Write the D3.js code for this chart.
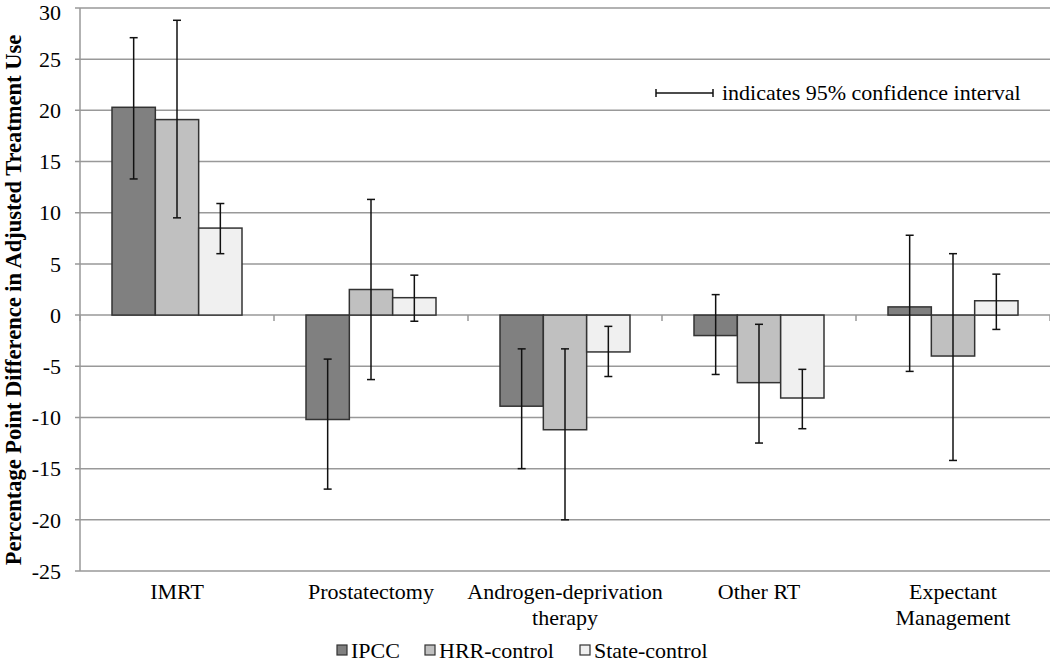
<!DOCTYPE html>
<html>
<head>
<meta charset="utf-8">
<script src="https://cdn.jsdelivr.net/npm/d3@7"></script>
<style>
  body { margin: 0; background: #fff; }
  text { font-family: "Liberation Serif", "Times New Roman", serif; }
</style>
</head>
<body>
<svg id="chart" width="1050" height="665"></svg>
<script>
// data
var categories = ["IMRT", "Prostatectomy", "Androgen-deprivation therapy", "Other RT", "Expectant Management"];
var catLines = [["IMRT"], ["Prostatectomy"], ["Androgen-deprivation", "therapy"], ["Other RT"], ["Expectant", "Management"]];
var seriesNames = ["IPCC", "HRR-control", "State-control"];
var ipcc  = [20.3, -10.2, -8.9, -2.0, 0.8];
var hrr   = [19.1, 2.5, -11.2, -6.6, -4.0];
var state = [8.5, 1.7, -3.6, -8.1, 1.4];
var ipccLow  = [13.3, -17.0, -15.0, -5.8, -5.5];
var ipccHigh = [27.1, -4.3, -3.3, 2.0, 7.8];
var hrrLow   = [9.5, -6.3, -20.0, -12.5, -14.2];
var hrrHigh  = [28.8, 11.3, -3.3, -0.9, 6.0];
var stateLow  = [6.0, -0.6, -6.0, -11.1, -1.4];
var stateHigh = [10.9, 3.9, -1.1, -5.3, 4.0];
var yTicks = [30, 25, 20, 15, 10, 5, 0, -5, -10, -15, -20, -25];
var colors = ["#808080", "#c0c0c0", "#f0f0f0"];

var svg = d3.select("svg#chart");
var plotLeft = 80, plotRight = 1050, plotTop = 8, plotBottom = 571;
var serif = "'Liberation Serif', 'Times New Roman', serif";

var y = d3.scaleLinear().domain([-25, 30]).range([plotBottom, plotTop]);
var x0 = d3.scaleBand().domain(categories).range([plotLeft, plotRight]).paddingInner(0).paddingOuter(0);
var x1 = d3.scaleBand().domain(seriesNames).range([32, 162]);

var rows = [];
categories.forEach(function(c, i) {
  rows.push({cat: c, s: "IPCC", v: ipcc[i], lo: ipccLow[i], hi: ipccHigh[i], col: colors[0]});
  rows.push({cat: c, s: "HRR-control", v: hrr[i], lo: hrrLow[i], hi: hrrHigh[i], col: colors[1]});
  rows.push({cat: c, s: "State-control", v: state[i], lo: stateLow[i], hi: stateHigh[i], col: colors[2]});
});

// gridlines
svg.append("g").selectAll("line")
  .data(yTicks).enter().append("line")
  .attr("x1", plotLeft - 5).attr("x2", plotRight)
  .attr("y1", function(d) { return y(d); })
  .attr("y2", function(d) { return y(d); })
  .attr("stroke", "#999").attr("stroke-width", 1.5);

// y tick labels (top one kept inside the frame)
svg.append("g").selectAll("text")
  .data(yTicks).enter().append("text")
  .attr("x", 61)
  .attr("y", function(d) { return Math.max(y(d), 12); })
  .attr("dy", "0.35em")
  .attr("text-anchor", "end")
  .attr("font-family", serif)
  .attr("font-size", 22)
  .attr("fill", "#000")
  .text(function(d) { return d; });

// y axis line
svg.append("line")
  .attr("x1", plotLeft).attr("x2", plotLeft)
  .attr("y1", plotTop).attr("y2", plotBottom)
  .attr("stroke", "#999").attr("stroke-width", 1.5);

// category ticks on zero line
svg.append("g").selectAll("line")
  .data(d3.range(categories.length + 1)).enter().append("line")
  .attr("x1", function(i) { return plotLeft + i * x0.bandwidth(); })
  .attr("x2", function(i) { return plotLeft + i * x0.bandwidth(); })
  .attr("y1", y(0)).attr("y2", y(0) + 6)
  .attr("stroke", "#999").attr("stroke-width", 1.5);

// bars
svg.append("g").selectAll("rect")
  .data(rows).enter().append("rect")
  .attr("x", function(d) { return x0(d.cat) + x1(d.s); })
  .attr("y", function(d) { return y(Math.max(0, d.v)); })
  .attr("width", x1.bandwidth())
  .attr("height", function(d) { return Math.abs(y(d.v) - y(0)); })
  .attr("fill", function(d) { return d.col; })
  .attr("stroke", "#333").attr("stroke-width", 1.5);

// error bars
var eb = svg.append("g").selectAll("g")
  .data(rows).enter().append("g")
  .attr("transform", function(d) { return "translate(" + (x0(d.cat) + x1(d.s) + x1.bandwidth() / 2) + ",0)"; });
eb.append("line")
  .attr("y1", function(d) { return y(d.lo); })
  .attr("y2", function(d) { return y(d.hi); })
  .attr("stroke", "#111").attr("stroke-width", 1.5);
eb.append("line")
  .attr("x1", -4).attr("x2", 4)
  .attr("y1", function(d) { return y(d.lo); })
  .attr("y2", function(d) { return y(d.lo); })
  .attr("stroke", "#111").attr("stroke-width", 1.5);
eb.append("line")
  .attr("x1", -4).attr("x2", 4)
  .attr("y1", function(d) { return y(d.hi); })
  .attr("y2", function(d) { return y(d.hi); })
  .attr("stroke", "#111").attr("stroke-width", 1.5);

// category labels
var cl = svg.append("g").selectAll("text")
  .data(categories).enter().append("text")
  .attr("x", function(d) { return x0(d) + x0.bandwidth() / 2; })
  .attr("y", 599)
  .attr("text-anchor", "middle")
  .attr("font-family", serif)
  .attr("font-size", 22)
  .attr("fill", "#000");
cl.selectAll("tspan")
  .data(function(d, i) { return catLines[i]; })
  .enter().append("tspan")
  .attr("x", function() { return this.parentNode.getAttribute("x"); })
  .attr("dy", function(d, i) { return i === 0 ? 0 : 26; })
  .text(function(d) { return d; });

// y title
svg.append("text")
  .attr("transform", "translate(21,300) rotate(-90)")
  .attr("text-anchor", "middle")
  .attr("font-family", serif)
  .attr("font-size", 22.5)
  .attr("font-weight", "bold")
  .attr("fill", "#000")
  .text("Percentage Point Difference in Adjusted Treatment Use");

// CI note
var note = svg.append("g").attr("transform", "translate(656,93)");
note.append("line").attr("x1", 0).attr("x2", 57).attr("stroke", "#111").attr("stroke-width", 1.5);
note.append("line").attr("x1", 0).attr("x2", 0).attr("y1", -4).attr("y2", 4).attr("stroke", "#111").attr("stroke-width", 1.5);
note.append("line").attr("x1", 57).attr("x2", 57).attr("y1", -4).attr("y2", 4).attr("stroke", "#111").attr("stroke-width", 1.5);
note.append("text").attr("x", 66).attr("dy", "0.32em")
  .attr("font-family", serif)
  .attr("font-size", 22).attr("fill", "#000")
  .text("indicates 95% confidence interval");

// legend
var legX = [337, 425, 580];
var leg = svg.append("g").selectAll("g")
  .data(seriesNames).enter().append("g")
  .attr("transform", function(d, i) { return "translate(" + legX[i] + ",650)"; });
leg.append("rect")
  .attr("x", 0).attr("y", -5).attr("width", 10).attr("height", 10)
  .attr("fill", function(d, i) { return colors[i]; })
  .attr("stroke", "#333").attr("stroke-width", 1.2);
leg.append("text")
  .attr("x", 14).attr("dy", "0.35em")
  .attr("font-family", serif)
  .attr("font-size", 22).attr("fill", "#000")
  .text(function(d) { return d; });
</script>
</body>
</html>
